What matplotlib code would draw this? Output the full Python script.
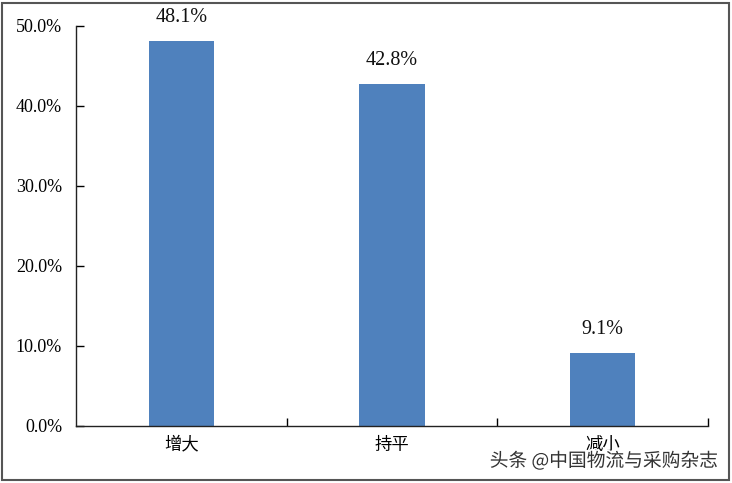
import matplotlib
matplotlib.use('Agg')
import matplotlib.pyplot as plt
import matplotlib.ticker as mticker
import matplotlib.patheffects as pe
from matplotlib.patches import Rectangle

categories = ['增大', '持平', '减小']
values = [48.1, 42.8, 9.1]
y_ticks = [0, 10, 20, 30, 40, 50]

BAR_COLOR = '#4F81BD'
SERIF = ['Liberation Serif', 'DejaVu Serif']
CJK = ['Noto Sans CJK SC', 'DejaVu Sans']

fig = plt.figure(figsize=(7.32, 4.83), dpi=100)
W, H = 732, 483
ax = fig.add_axes([76 / W, 1 - 426 / H, (708 - 76) / W, (426 - 26) / H])

x = list(range(len(categories)))
ax.bar(x, values, width=0.31, color=BAR_COLOR, zorder=2)
for xi, v in zip(x, values):
    ax.text(xi, v + 2.9, f'{v:.1f}%', ha='center', va='center',
            fontsize=14.5, family=SERIF, color='#111111')

ax.set_xlim(-0.5, len(categories) - 0.5)
ax.set_ylim(0, 50)
ax.set_yticks(y_ticks)
ax.yaxis.set_major_formatter(mticker.FuncFormatter(lambda v, _: f'{v:.1f}%'))
for lab in ax.get_yticklabels():
    lab.set_family(SERIF)
    lab.set_fontsize(13)

# category ticks sit between bars, labels centered under bars
ax.set_xticks([i + 0.5 for i in x[:-1]] + [len(categories) - 0.5], minor=False)
ax.set_xticklabels([])
ax.set_xticks(x, minor=True)
ax.set_xticklabels(categories, minor=True, family=CJK, fontsize=12.5)
ax.tick_params(axis='x', which='minor', length=0, pad=7)
ax.tick_params(axis='x', which='major', direction='in', length=6, width=1)
ax.tick_params(axis='y', direction='in', length=6, width=1, pad=10)

ax.spines['top'].set_visible(False)
ax.spines['right'].set_visible(False)
for s in ['left', 'bottom']:
    ax.spines[s].set_linewidth(1)
    ax.spines[s].set_color('#222222')

# outer chart border
fig.patches.append(Rectangle((2 / W, 3 / H), 727 / W, 477 / H, transform=fig.transFigure,
                             fill=False, edgecolor='#555555', linewidth=1.5))

fig.text(718 / W, 1 - 461 / H, '头条 @中国物流与采购杂志', ha='right', va='center',
         fontsize=13.5, family=CJK, color='#333333',
         path_effects=[pe.withStroke(linewidth=2.5, foreground='white')])

fig.savefig('out.png', dpi=100)
